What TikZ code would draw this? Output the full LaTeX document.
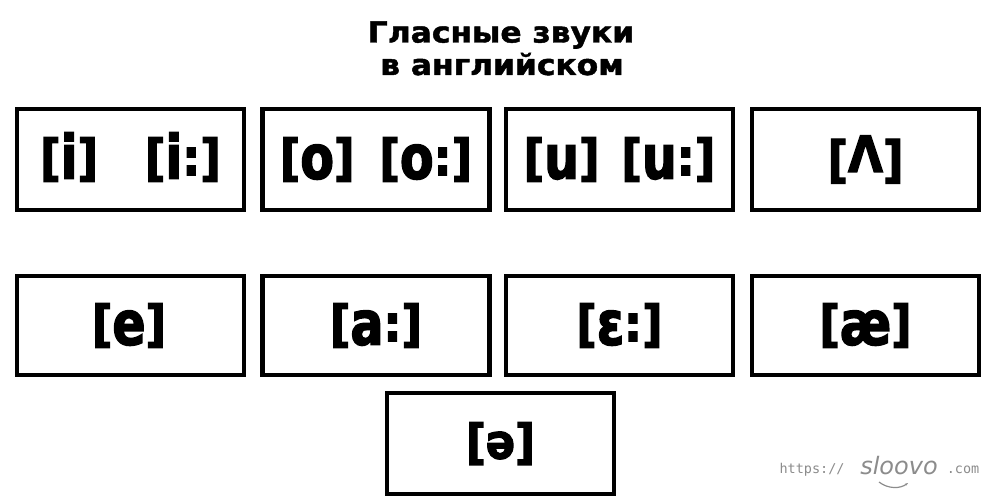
\documentclass[tikz,border=0pt]{standalone}
\usepackage{fontspec}
\usetikzlibrary{arrows.meta}
\setmainfont{DejaVu Sans}
\newfontfamily\wmmono{DejaVu Sans Mono}
\newfontfamily\ttlfont{DejaVu Sans Bold}[FakeStretch=1.08, FakeBold=1.5]
\newfontfamily\boxfont{DejaVu Sans Bold}[FakeStretch=0.9, FakeBold=2.5]
\newfontfamily\ltrfont{DejaVu Sans Bold}[FakeStretch=0.8, FakeBold=2.5]
\newcommand\bigltr[1]{\smash{\raisebox{-3.5pt}{\ltrfont\fontsize{61}{61}\selectfont #1}}}
\begin{document}
\begin{tikzpicture}[x=1pt,y=-1pt]
\useasboundingbox (0,0) rectangle (1000,500);
\fill[white] (0,0) rectangle (1000,500);
\tikzset{
  box/.style={draw, line width=4.5pt, minimum width=227pt, minimum height=101pt, inner sep=0pt,
    font=\boxfont\fontsize{50}{50}\selectfont},
  ttl/.style={anchor=base, inner sep=0pt, font=\ttlfont\fontsize{29}{33}\selectfont},
  wm/.style={text=black!45, inner sep=0pt, anchor=base}
}
\node[ttl] (t1) at (501,42.5) {Гласные звуки};
\node[ttl] (t2) at (502,75) {в английском};

\node[box] (b1) at (130.5,159.5) {[\bigltr{i}]\hspace{47pt}[\bigltr{i}:]};
\node[box] (b2) at (376,159.5) {[\bigltr{o}]\hspace{25pt}[\bigltr{o}:]};
\node[box] (b3) at (619.5,159.5) {[\bigltr{u}]\hspace{22pt}[\bigltr{u}:]};
\node[box] (b4) at (865.5,159.5) {[\raisebox{5pt}{Λ}]};

\node[box, minimum height=99pt] (c1) at (130.5,325.5) {\kern-3pt[\bigltr{e}]};
\node[box, minimum height=99pt] (c2) at (376,325.5) {[\bigltr{a}:]};
\node[box, minimum height=99pt] (c3) at (619.5,325.5) {[\bigltr{ɛ}:]};
\node[box, minimum height=99pt] (c4) at (865.5,325.5) {[\bigltr{æ}]};

\node[box, font=\boxfont\fontsize{48}{48}\selectfont] (d1) at (500.5,443.5) {[ə]};

\node[wm, font=\wmmono\fontsize{13.5}{14}\selectfont] (w1) at (812,473) {https://};
\node[wm, font=\fontsize{24}{24}\selectfont\itshape] (w2) at (899,474) {sloovo};
\node[wm, font=\wmmono\fontsize{13.5}{14}\selectfont] (w3) at (963,473) {.com};
\coordinate (s1) at (879,482);
\coordinate (s2) at (908,483);
\draw[black!45, line width=1.2pt, -{Stealth[length=3pt]}] (s1) .. controls (888,489) and (900,489) .. (s2);
\end{tikzpicture}
\end{document}
